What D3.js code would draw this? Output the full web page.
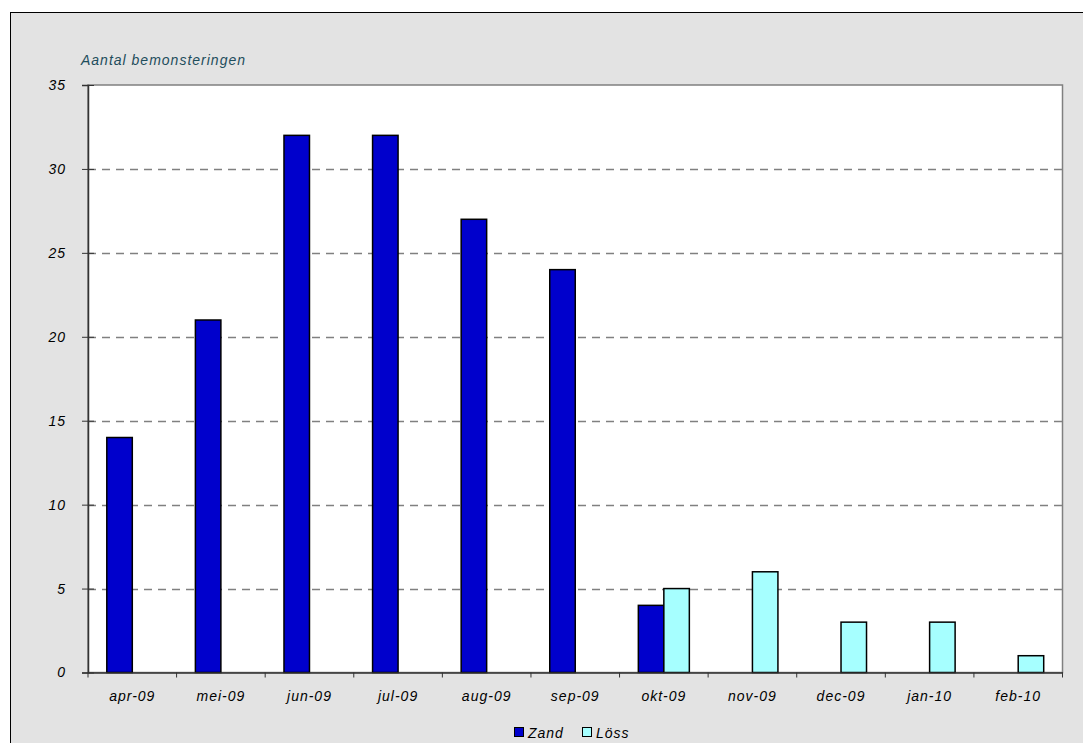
<!DOCTYPE html>
<html><head><meta charset="utf-8">
<script src="https://cdn.jsdelivr.net/npm/d3@7"></script>
<style>
body{margin:0;background:#fff;}
text{font-family:Arial,"Liberation Sans",sans-serif;font-style:italic;}
</style></head>
<body><svg id="c" width="1083" height="743"></svg>
<script>
const categories = ["apr-09","mei-09","jun-09","jul-09","aug-09","sep-09","okt-09","nov-09","dec-09","jan-10","feb-10"];
const zand = [14,21,32,32,27,24,4,0,0,0,0];
const loss = [0,0,0,0,0,0,5,6,3,3,1];
const seriesNames = ["Zand","Löss"];
const seriesColors = ["#0000CC","#A6FFFF"];
const yTicks = [0,5,10,15,20,25,30,35];

const svg = d3.select("#c");
svg.append("rect").attr("x",10.5).attr("y",12.5).attr("width",1080).attr("height",740)
  .attr("fill","#E3E3E3").attr("stroke","#000").attr("stroke-width",1);

const L=88, R=1062.5, T=85, B=672.5;
const x = d3.scaleBand().domain(categories).range([L,R]);
const y = d3.scaleLinear().domain([0,35]).range([B,T]);
const groupW = 51;
const xs = d3.scaleBand().domain(seriesNames).range([0,groupW]);

svg.append("rect").attr("x",L).attr("y",T).attr("width",R-L).attr("height",B-T)
  .attr("fill","#fff").attr("stroke","#808080").attr("stroke-width",1.5);

svg.append("g").selectAll("line").data(yTicks.filter(d=>d>0&&d<35)).join("line")
  .attr("x1",L).attr("x2",R).attr("y1",d=>Math.round(y(d))+0.5).attr("y2",d=>Math.round(y(d))+0.5)
  .attr("stroke","#808080").attr("stroke-width",1.3).attr("stroke-dasharray","8,6");

const data = [];
categories.forEach((c,i)=>{
  [zand[i],loss[i]].forEach((v,j)=>{ if(v>0) data.push({c,s:seriesNames[j],v,col:seriesColors[j]}); });
});
const off = (x.bandwidth()-groupW)/2;
svg.append("g").selectAll("rect").data(data).join("rect")
  .attr("x",d=>x(d.c)+off+xs(d.s)).attr("width",xs.bandwidth())
  .attr("y",d=>y(d.v)).attr("height",d=>B-y(d.v))
  .attr("fill",d=>d.col).attr("stroke","#000").attr("stroke-width",1.5);

const yAxis = d3.axisLeft(y).tickValues(yTicks).tickSize(6).tickPadding(16);
const gy = svg.append("g").attr("transform",`translate(${L},0)`).call(yAxis);
gy.select(".domain").attr("stroke","#333").attr("stroke-width",1.5);
gy.selectAll(".tick line").attr("stroke","#333").attr("x1",6);
gy.selectAll("text").attr("font-size",14).attr("fill","#000").style("letter-spacing","1px")
  .attr("font-family","Arial, 'Liberation Sans', sans-serif");

const xAxis = d3.axisBottom(x).tickSize(0).tickPadding(19);
const gx = svg.append("g").attr("transform",`translate(0,${B})`).call(xAxis);
gx.select(".domain").attr("stroke","#333").attr("stroke-width",1.5);
gx.selectAll("text").attr("font-size",14).attr("fill","#000").style("letter-spacing","1px")
  .attr("font-family","Arial, 'Liberation Sans', sans-serif");
const bounds = categories.map(c=>x(c)).concat([R]);
svg.append("g").selectAll("line").data(bounds).join("line")
  .attr("x1",d=>d).attr("x2",d=>d).attr("y1",B).attr("y2",B+5)
  .attr("stroke","#333").attr("stroke-width",1);

svg.append("text").attr("x",81).attr("y",65).attr("font-size",14).attr("fill","#1E4D5C")
  .style("letter-spacing","1px").text("Aantal bemonsteringen");

const leg = svg.append("g");
const legX = [514,582];
seriesNames.forEach((s,i)=>{
  leg.append("rect").attr("x",legX[i]+0.5).attr("y",727.5).attr("width",9).attr("height",9)
    .attr("fill",seriesColors[i]).attr("stroke","#000").attr("stroke-width",1);
  leg.append("text").attr("x",legX[i]+14).attr("y",737.5).attr("font-size",14)
    .style("letter-spacing","1px").attr("fill","#000").text(s);
});
</script></body></html>
